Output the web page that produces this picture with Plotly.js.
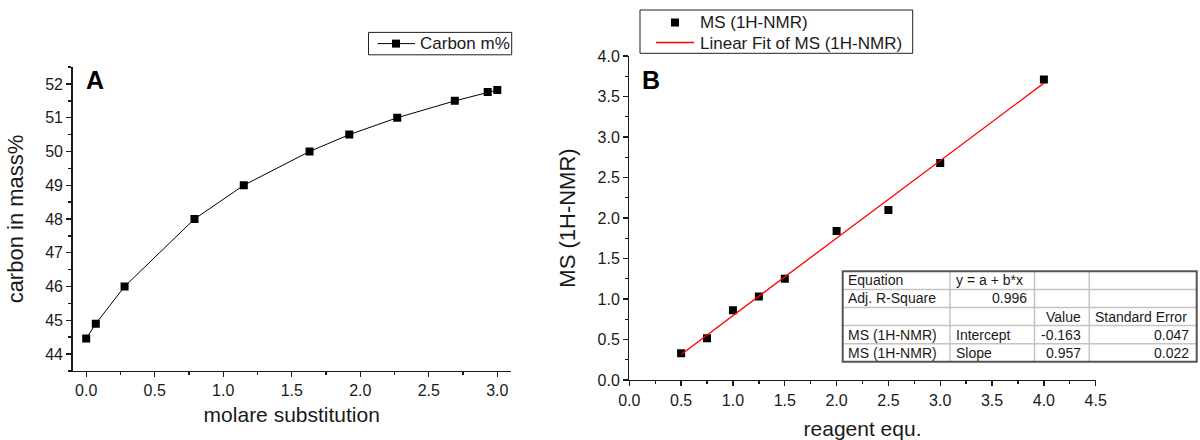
<!DOCTYPE html>
<html>
<head>
<meta charset="utf-8">
<script src="https://cdn.plot.ly/plotly-3.0.1.min.js"></script>
<style>html,body{margin:0;padding:0;background:#fff;}#chart{width:1200px;height:440px;}</style>
</head>
<body>
<div id="chart"></div>
<script>
// ---------- data ----------
const molareSubstitution = [0, 0.07, 0.28, 0.79, 1.15, 1.63, 1.92, 2.27, 2.69, 2.93, 3.0];
const carbonMassPct = [44.46, 44.9, 46.0, 48.0, 49.0, 50.0, 50.5, 51.0, 51.5, 51.76, 51.82];

const reagentEqu = [0.5, 0.75, 1.0, 1.25, 1.5, 2.0, 2.5, 3.0, 4.0];
const msNMR = [0.33, 0.515, 0.86, 1.03, 1.25, 1.84, 2.10, 2.68, 3.71];

const fitX = [0.5, 4.0];
const fitY = [0.316, 3.665];

const seriesNames = ['Carbon m%', 'MS (1H-NMR)', 'Linear Fit of MS (1H-NMR)'];

const tableCol0 = ['Equation', 'Adj. R-Square', '', 'MS (1H-NMR)', 'MS (1H-NMR)'];
const tableCol1 = ['y = a + b*x', '0.996', '', 'Intercept', 'Slope'];
const tableCol2 = ['', '', 'Value', '-0.163', '0.957'];
const tableCol3 = ['', '', 'Standard Error', '0.047', '0.022'];

// ---------- layout helpers (pixels -> paper) ----------
const W = 1200, H = 440;
const px = x => x / W;
const py = y => 1 - y / H;
const FONT = 'Liberation Sans, Arial, Helvetica, sans-serif';
const INK = '#1a1a1a';

const shapes = [];
const annotations = [];
const P = {xref: 'paper', yref: 'paper'};

// ---------- fit-result table ----------
const tableCols = [tableCol0, tableCol1, tableCol2, tableCol3];
const tableAlign = [
  ['left', 'left', 'left', 'left', 'left'],
  ['left', 'right', 'left', 'left', 'left'],
  ['right', 'right', 'right', 'right', 'right'],
  ['left', 'left', 'left', 'right', 'right']
];
const colEdges = [842.7, 950, 1034.5, 1089.3, 1196.7];
const rowTop = 271.3, rowH = 18.1, nRows = 5;

for (let c = 1; c < colEdges.length - 1; c++) {
  shapes.push(Object.assign({type: 'line', x0: px(colEdges[c]), x1: px(colEdges[c]),
    y0: py(rowTop), y1: py(rowTop + nRows * rowH), line: {color: '#c4c4c4', width: 1.5}}, P));
}
for (let r = 1; r < nRows; r++) {
  shapes.push(Object.assign({type: 'line', x0: px(colEdges[0]), x1: px(colEdges[colEdges.length - 1]),
    y0: py(rowTop + r * rowH), y1: py(rowTop + r * rowH), line: {color: '#c4c4c4', width: 1.5}}, P));
}
shapes.push(Object.assign({type: 'rect', x0: px(colEdges[0]), x1: px(colEdges[colEdges.length - 1]),
  y0: py(rowTop), y1: py(rowTop + nRows * rowH), line: {color: '#555', width: 2}, fillcolor: 'rgba(0,0,0,0)'}, P));

tableCols.forEach((col, c) => {
  col.forEach((txt, r) => {
    if (!txt) return;
    const al = tableAlign[c][r];
    annotations.push(Object.assign({
      showarrow: false,
      x: al === 'left' ? px(colEdges[c] + 3.5) : px(colEdges[c + 1] - 6),
      xanchor: al,
      y: py(rowTop + (r + 0.5) * rowH), yanchor: 'middle',
      text: txt, font: {family: FONT, size: 14, color: INK}
    }, P));
  });
});

// ---------- panel letters ----------
annotations.push(Object.assign({x: px(95), y: py(80), xanchor: 'center', yanchor: 'middle',
  showarrow: false, text: '<b>A</b>', font: {family: FONT, size: 25, color: '#000'}}, P));
annotations.push(Object.assign({x: px(651), y: py(80), xanchor: 'center', yanchor: 'middle',
  showarrow: false, text: '<b>B</b>', font: {family: FONT, size: 25, color: '#000'}}, P));

// ---------- legends (Origin style boxes) ----------
function legendBox(x0, x1, y0, y1) {
  shapes.push(Object.assign({type: 'rect', x0: px(x0), x1: px(x1), y0: py(y0), y1: py(y1),
    line: {color: '#222', width: 1}, fillcolor: '#fff'}, P));
}
function legendLine(x0, x1, y, color, width) {
  shapes.push(Object.assign({type: 'line', x0: px(x0), x1: px(x1), y0: py(y), y1: py(y),
    line: {color: color, width: width}}, P));
}
function legendSquare(cx, cy, s) {
  shapes.push(Object.assign({type: 'rect', x0: px(cx - s / 2), x1: px(cx + s / 2), y0: py(cy - s / 2), y1: py(cy + s / 2),
    line: {width: 0}, fillcolor: '#000'}, P));
}
function legendText(x, y, txt) {
  annotations.push(Object.assign({x: px(x), y: py(y), xanchor: 'left', yanchor: 'middle', showarrow: false,
    text: txt, font: {family: FONT, size: 17, color: INK}}, P));
}
// legend A
legendBox(368.5, 511.7, 32.4, 54.8);
legendLine(377.5, 415, 43.6, '#000', 1);
legendSquare(396, 43.6, 8);
legendText(417.5, 43.8, seriesNames[0]);
// legend B
legendBox(640, 912.7, 10, 53.3);
legendSquare(675, 22.5, 8);
legendText(697.5, 23, seriesNames[1]);
legendLine(656, 694, 42.5, '#ff0000', 1.3);
legendText(697.5, 43, seriesNames[2]);

// ---------- traces ----------
const traces = [
  {x: molareSubstitution, y: carbonMassPct, xaxis: 'x', yaxis: 'y', type: 'scatter', mode: 'lines+markers',
   name: seriesNames[0], showlegend: false,
   line: {color: '#000', width: 1}, marker: {symbol: 'square', size: 8, color: '#000'}},
  {x: reagentEqu, y: msNMR, xaxis: 'x2', yaxis: 'y2', type: 'scatter', mode: 'markers',
   name: seriesNames[1], showlegend: false,
   marker: {symbol: 'square', size: 8, color: '#000'}},
  {x: fitX, y: fitY, xaxis: 'x2', yaxis: 'y2', type: 'scatter', mode: 'lines',
   name: seriesNames[2], showlegend: false,
   line: {color: '#ff0000', width: 1.3}}
];

const axisBase = {
  showgrid: false, zeroline: false, showline: true, linecolor: INK, linewidth: 1.3,
  ticks: 'outside', ticklen: 5, tickwidth: 1.3, tickcolor: INK,
  tickfont: {family: FONT, size: 16, color: INK},
  minor: {ticks: 'outside', ticklen: 3, tickwidth: 1.3, tickcolor: INK, showgrid: false},
  fixedrange: true
};

const layout = {
  width: W, height: H,
  margin: {l: 0, r: 0, t: 0, b: 0},
  paper_bgcolor: '#fff', plot_bgcolor: 'rgba(0,0,0,0)',
  font: {family: FONT, color: INK},
  showlegend: false,
  xaxis: Object.assign({}, axisBase, {
    domain: [px(72.5), px(511)], anchor: 'y', range: [-0.1, 3.1],
    dtick: 0.5, tick0: 0, tickformat: '.1f', minor: Object.assign({}, axisBase.minor, {dtick: 0.25}),
    title: {text: 'molare substitution', font: {family: FONT, size: 21, color: INK}, standoff: 9}
  }),
  yaxis: Object.assign({}, axisBase, {
    domain: [py(370.9), py(67.1)], anchor: 'x', range: [43.5, 52.5],
    dtick: 1, tick0: 0, minor: Object.assign({}, axisBase.minor, {dtick: 0.5}),
    title: {text: 'carbon in mass%', font: {family: FONT, size: 22, color: INK}, standoff: 15}
  }),
  xaxis2: Object.assign({}, axisBase, {
    domain: [px(629.3), px(1095.7)], anchor: 'y2', range: [0, 4.5],
    dtick: 0.5, tick0: 0, tickformat: '.1f', minor: Object.assign({}, axisBase.minor, {dtick: 0.25}),
    title: {text: 'reagent equ.', font: {family: FONT, size: 21, color: INK}, standoff: 14}
  }),
  yaxis2: Object.assign({}, axisBase, {
    domain: [py(380), py(56)], anchor: 'x2', range: [0, 4.0],
    dtick: 0.5, tick0: 0, tickformat: '.1f', minor: Object.assign({}, axisBase.minor, {dtick: 0.25}),
    title: {text: 'MS (1H-NMR)', font: {family: FONT, size: 22, color: INK}, standoff: 15}
  }),
  shapes: shapes,
  annotations: annotations
};

Plotly.newPlot('chart', traces, layout, {staticPlot: true, displayModeBar: false});
</script>
</body>
</html>
